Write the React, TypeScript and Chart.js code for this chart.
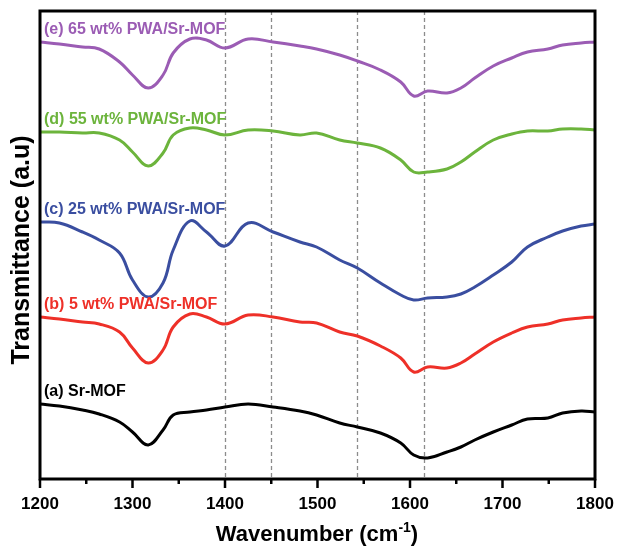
import React, { useEffect, useRef } from 'react';
import { Chart, registerables } from 'chart.js';

Chart.register(...registerables);

const wavenumbers = [1200, 1221, 1246, 1264, 1286, 1300, 1317, 1333, 1344, 1362, 1380, 1400, 1425, 1452, 1481, 1499, 1524, 1543, 1568, 1590, 1604, 1619, 1640, 1655, 1670, 1690, 1710, 1727, 1749, 1765, 1785, 1800];

const seriesE = [437, 435, 432, 430, 417, 404, 391, 404, 426, 440, 439, 431, 440, 437, 433, 430, 424, 418, 409, 397, 383, 388, 386, 391, 401, 413, 421, 427, 430, 434, 436, 437];
const seriesD = [347, 347, 346, 346, 339, 327, 313, 326, 344, 351, 349, 344, 349, 348, 344, 346, 339, 336, 331, 319, 307, 307, 310, 317, 327, 339, 345, 348, 348, 350, 350, 349];
const seriesC = [257, 256, 247, 239, 226, 199, 182, 196, 229, 258, 247, 233, 256, 247, 237, 232, 219, 211, 196, 184, 179, 181, 182, 185, 192, 204, 217, 232, 242, 248, 253, 255];
const seriesB = [162, 160, 157, 155, 147, 131, 116, 129, 152, 165, 162, 155, 164, 162, 157, 156, 147, 143, 133, 121, 107, 112, 111, 116, 125, 137, 146, 152, 155, 159, 161, 162];
const seriesA = [75, 73, 69, 65, 57, 47, 34, 49, 64, 67, 69, 72, 75, 72, 68, 64, 56, 52, 46, 36, 24, 21, 27, 32, 39, 47, 54, 60, 61, 66, 68, 67];

const seriesLabels = ['(e) 65 wt% PWA/Sr-MOF', '(d) 55 wt% PWA/Sr-MOF', '(c) 25 wt% PWA/Sr-MOF', '(b) 5 wt% PWA/Sr-MOF', '(a) Sr-MOF'];
const seriesColors = ['#9b5cb4', '#6cb43c', '#3a4ea0', '#ee3028', '#000000'];
const dashedLines = [1400, 1450, 1543, 1615];
const xTitle = 'Wavenumber (cm';
const xTitleSup = '-1';
const yTitle = 'Transmittance (a.u)';

const FONT = '"Liberation Sans", Arial, sans-serif';

export default function App() {
  const ref = useRef<HTMLCanvasElement>(null);
  useEffect(() => {
    if (!ref.current) return;
    const all = [seriesE, seriesD, seriesC, seriesB, seriesA];
    const decor = {
      id: 'decor',
      beforeDatasetsDraw(chart: any) {
        const { ctx, chartArea, scales } = chart;
        ctx.save();
        ctx.strokeStyle = '#8c8c8c';
        ctx.lineWidth = 1.3;
        ctx.setLineDash([4, 3]);
        dashedLines.forEach((v) => {
          const x = Math.round(scales.x.getPixelForValue(v)) + 0.5;
          ctx.beginPath();
          ctx.moveTo(x, chartArea.top);
          ctx.lineTo(x, chartArea.bottom);
          ctx.stroke();
        });
        ctx.restore();
      },
      afterDatasetsDraw(chart: any) {
        const { ctx, chartArea, scales } = chart;
        ctx.save();
        ctx.font = `bold 16px ${FONT}`;
        ctx.textAlign = 'left';
        ctx.textBaseline = 'middle';
        all.forEach((s, i) => {
          const y = scales.y.getPixelForValue(s[0]) - 12;
          ctx.fillStyle = seriesColors[i];
          ctx.fillText(seriesLabels[i], chartArea.left + 4, y);
        });
        ctx.strokeStyle = '#000';
        ctx.lineWidth = 3;
        ctx.strokeRect(chartArea.left, chartArea.top, chartArea.right - chartArea.left, chartArea.bottom - chartArea.top);
        ctx.lineWidth = 2.5;
        for (let v = 1200; v <= 1800; v += 50) {
          const x = scales.x.getPixelForValue(v);
          const len = v % 100 === 0 ? 9 : 5;
          ctx.beginPath();
          ctx.moveTo(x, chartArea.bottom);
          ctx.lineTo(x, chartArea.bottom + len);
          ctx.stroke();
        }
        ctx.fillStyle = '#000';
        ctx.save();
        ctx.translate(22, 250);
        ctx.rotate(-Math.PI / 2);
        ctx.font = `bold 25px ${FONT}`;
        ctx.textAlign = 'center';
        ctx.textBaseline = 'middle';
        ctx.fillText(yTitle, 0, 0);
        ctx.restore();
        ctx.font = `bold 22px ${FONT}`;
        const w1 = ctx.measureText(xTitle).width;
        const w3 = ctx.measureText(')').width;
        ctx.font = `bold 14px ${FONT}`;
        const w2 = ctx.measureText(xTitleSup).width;
        const total = w1 + w2 + w3;
        const x0 = 317 - total / 2;
        const base = 541;
        ctx.textAlign = 'left';
        ctx.textBaseline = 'alphabetic';
        ctx.font = `bold 22px ${FONT}`;
        ctx.fillText(xTitle, x0, base);
        ctx.font = `bold 14px ${FONT}`;
        ctx.fillText(xTitleSup, x0 + w1, base - 9);
        ctx.font = `bold 22px ${FONT}`;
        ctx.fillText(')', x0 + w1 + w2, base);
        ctx.restore();
      },
    };
    const chart = new Chart(ref.current, {
      type: 'line',
      data: {
        datasets: all.map((s, i) => ({
          label: seriesLabels[i],
          data: wavenumbers.map((w, j) => ({ x: w, y: s[j] })),
          borderColor: seriesColors[i],
          borderWidth: 3,
          pointRadius: 0,
          tension: 0.4,
          fill: false,
        })),
      },
      options: {
        animation: false,
        responsive: true,
        maintainAspectRatio: false,
        layout: { padding: { top: 11, right: 23, left: 0, bottom: 0 } },
        plugins: { legend: { display: false }, tooltip: { enabled: false } },
        scales: {
          x: {
            type: 'linear',
            min: 1200,
            max: 1800,
            grid: { display: false, drawTicks: false },
            border: { display: false },
            ticks: {
              stepSize: 100,
              maxRotation: 0,
              color: '#000',
              font: { family: FONT, size: 17, weight: 'bold' },
              padding: 15,
              callback: (v: any) => String(v),
            },
            afterFit(s: any) {
              s.height = 67;
              s.paddingLeft = 0;
              s.paddingRight = 0;
            },
          },
          y: {
            min: 0,
            max: 468,
            grid: { display: false, drawTicks: false },
            border: { display: false },
            ticks: { display: false },
            afterFit(s: any) {
              s.width = 40;
              s.paddingTop = 0;
              s.paddingBottom = 0;
            },
          },
        },
      },
      plugins: [decor],
    });
    return () => chart.destroy();
  }, []);
  return (
    <div style={{ position: 'absolute', left: 0, top: 0, width: 618, height: 546, background: '#fff' }}>
      <canvas ref={ref} />
    </div>
  );
}
